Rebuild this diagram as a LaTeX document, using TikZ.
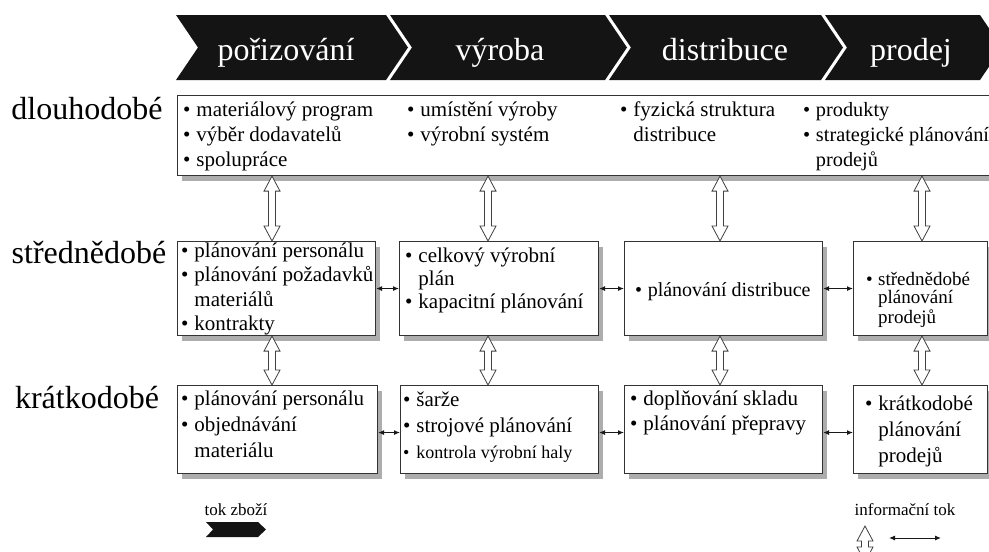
\documentclass[tikz,border=0pt]{standalone}
\usepackage{fontspec}
\setmainfont{Liberation Serif}
\usetikzlibrary{arrows.meta,shadows,calc}

% bulleted list with hanging indent; first baseline is the node's base
\newcommand\blist[1]{\begin{tabular}[t]{@{}l@{\hspace{0.28em}}l@{}}#1\end{tabular}}
\newcommand\bu{\textbullet}

\begin{document}
\begin{tikzpicture}[x=1pt,y=-1pt,
  chev/.style={fill=black!92, draw=none},
  head/.style={text=white, font=\fontsize{32}{36}\selectfont, inner sep=0, anchor=base},
  rowlab/.style={font=\fontsize{32}{36}\selectfont, inner sep=0, anchor=base},
  box/.style={draw=black!80, line width=1.1pt, fill=white, anchor=north west, inner sep=0,
    drop shadow={shadow xshift=4pt, shadow yshift=-5pt, fill=black!32, opacity=1}},
  txt/.style={inner sep=0, anchor=base west, font=\fontsize{21}{25}\selectfont},
  legend/.style={inner sep=0, anchor=base, font=\fontsize{17}{20}\selectfont},
  hollow/.style={draw=black!75, line width=0.8pt, fill=white,
    to path={let \p1=(\tikztostart), \p2=(\tikztotarget) in
      (\x1,\y1) -- (\x1+8pt,\y1-15pt) -- (\x1+3.5pt,\y1-15pt) -- (\x1+3.5pt,\y2+15pt)
      -- (\x1+8pt,\y2+15pt) -- (\x1,\y2) -- (\x1-8pt,\y2+15pt) -- (\x1-3.5pt,\y2+15pt)
      -- (\x1-3.5pt,\y1-15pt) -- (\x1-8pt,\y1-15pt) -- cycle}},
  info/.style={{Latex[length=6pt,width=5pt]}-{Latex[length=6pt,width=5pt]}, line width=1pt, draw=black!90}
]
\useasboundingbox (0,0) rectangle (989,552);
\clip (0,0) rectangle (989,552);
\fill[white] (0,0) rectangle (989,552);

% process chain header
\fill[chev] (176,15) -- (386,15) -- (408,47.5) -- (386,80) -- (176,80) -- (198,47.5) -- cycle;
\fill[chev] (390,15) -- (605,15) -- (627,47.5) -- (605,80) -- (390,80) -- (412,47.5) -- cycle;
\fill[chev] (609,15) -- (821,15) -- (843,47.5) -- (821,80) -- (609,80) -- (631,47.5) -- cycle;
\fill[chev] (825,15) -- (980,15) -- (1002,47.5) -- (980,80) -- (825,80) -- (847,47.5) -- cycle;
\node[head] (h1) at (286,60) {pořizování};
\node[head] (h2) at (500,60) {výroba};
\node[head] (h3) at (725,60) {distribuce};
\node[head] (h4) at (911,60) {prodej};

% planning horizons
\node[rowlab] (r1) at (87,119) {dlouhodobé};
\node[rowlab] (r2) at (89,263) {střednědobé};
\node[rowlab] (r3) at (87,408) {krátkodobé};

% boxes
\node[box, minimum width=830pt, minimum height=80pt] (long) at (177,95) {};
\node[box, minimum width=198pt, minimum height=94pt] (mA) at (177,241) {};
\node[box, minimum width=199pt, minimum height=94pt] (mB) at (399,241) {};
\node[box, minimum width=198pt, minimum height=94pt] (mC) at (624,241) {};
\node[box, minimum width=134pt, minimum height=94pt] (mD) at (853,241) {};
\node[box, minimum width=200pt, minimum height=88pt] (sA) at (177,385) {};
\node[box, minimum width=198pt, minimum height=88pt] (sB) at (400,385) {};
\node[box, minimum width=198pt, minimum height=88pt] (sC) at (624,385) {};
\node[box, minimum width=134pt, minimum height=88pt] (sD) at (853,385) {};

% long-term contents
\node[txt] (t1) at (183,116) {\blist{\bu & materiálový program\\ \bu & výběr dodavatelů\\ \bu & spolupráce}};
\node[txt] (t2) at (407,116) {\blist{\bu & umístění výroby\\ \bu & výrobní systém}};
\node[txt] (t3) at (620,116) {\blist{\bu & fyzická struktura\\ & distribuce}};
\node[txt, font=\fontsize{20.3}{25}\selectfont] (t4) at (803,116) {\blist{\bu & produkty\\ \bu & strategické plánování\\ & prodejů}};

% mid-term contents
\node[txt, font=\fontsize{21}{24.5}\selectfont] (a2) at (181,257) {\blist{\bu & plánování personálu\\ \bu & plánování požadavků\\ & materiálů\\ \bu & kontrakty}};
\node[txt, font=\fontsize{21}{23}\selectfont] (b2) at (405,262) {\blist{\bu & celkový výrobní\\ & plán\\ \bu & kapacitní plánování}};
\node[txt, font=\fontsize{20}{24}\selectfont] (c2) at (635,296) {\blist{\bu & plánování distribuce}};
\node[txt, font=\fontsize{19}{18.5}\selectfont] (d2) at (866,285) {\blist{\bu & střednědobé\\ & plánování\\ & prodejů}};

% short-term contents
\node[txt, font=\fontsize{21}{26}\selectfont] (a3) at (181,405) {\blist{\bu & plánování personálu\\ \bu & objednávání\\ & materiálu}};
\node[txt, font=\fontsize{21}{26}\selectfont] (b3) at (403,406) {\blist{\bu & šarže\\ \bu & strojové plánování\\ \fontsize{18}{24}\selectfont\bu & \fontsize{18}{24}\selectfont kontrola výrobní haly}};
\node[txt] (c3) at (630,405) {\blist{\bu & doplňování skladu\\ \bu & plánování přepravy}};
\node[txt, font=\fontsize{21}{26}\selectfont] (d3) at (865,410) {\blist{\bu & krátkodobé\\ & plánování\\ & prodejů}};

% vertical information flow
\coordinate (k1) at (272,0);
\coordinate (k2) at (488,0);
\coordinate (k3) at (720,0);
\coordinate (k4) at (922,0);
\draw[hollow] (long.south -| k1) to (mA.north -| k1);
\draw[hollow] (long.south -| k2) to (mB.north -| k2);
\draw[hollow] (long.south -| k3) to (mC.north -| k3);
\draw[hollow] (long.south -| k4) to (mD.north -| k4);
\draw[hollow] (mA.south -| k1) to (sA.north -| k1);
\draw[hollow] (mB.south -| k2) to (sB.north -| k2);
\draw[hollow] (mC.south -| k3) to (sC.north -| k3);
\draw[hollow] (mD.south -| k4) to (sD.north -| k4);

% horizontal information flow
\draw[info] (mA.east) -- (mB.west);
\draw[info] (mB.east) -- (mC.west);
\draw[info] (mC.east) -- (mD.west);
\draw[info] ([yshift=-3pt]sA.east) -- ([yshift=-3pt]sB.west);
\draw[info] ([yshift=-3pt]sB.east) -- ([yshift=-3pt]sC.west);
\draw[info] ([yshift=-3pt]sC.east) -- ([yshift=-3pt]sD.west);

% legend
\node[legend] (lgA) at (236,515) {tok zboží};
\fill[chev] (206,522) -- (258,522) -- (266,529.5) -- (258,537) -- (206,537) -- (213,529.5) -- cycle;
\node[legend] (lgB) at (905,515) {informační tok};
\coordinate (lh1) at (865,526);
\coordinate (lh2) at (865,562);
\draw[hollow] (lh1) to (lh2);
\coordinate (li1) at (889,538);
\coordinate (li2) at (941,538);
\draw[info] (li1) -- (li2);
\end{tikzpicture}
\end{document}
